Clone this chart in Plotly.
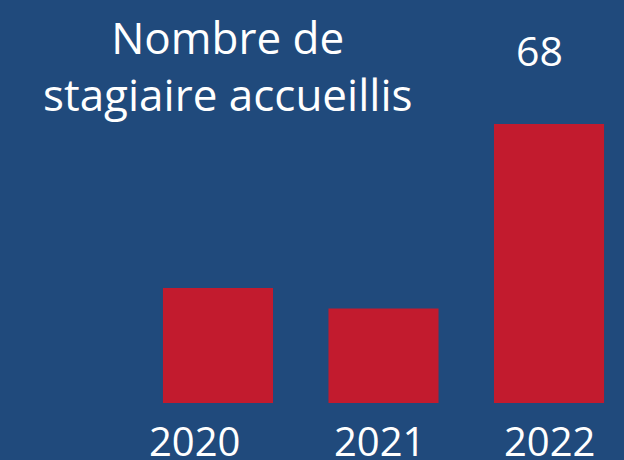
import plotly.graph_objects as go

years = ["2020", "2021", "2022"]
values = [28, 23, 68]
title_text = "Nombre de<br>stagiaire accueillis"

BG = "#204A7C"
RED = "#C21B2E"
FONT = "Open Sans"
label_dx = [-23, -4, 0]  # horizontal nudges of year labels (px), as in reference

fig = go.Figure()
fig.add_trace(go.Bar(
    x=years, y=values,
    marker=dict(color=RED, line=dict(width=0)),
    hoverinfo="skip",
))

# value label above the last bar
fig.add_annotation(
    x=2, y=values[2], xref="x", yref="y",
    text=str(values[2]), showarrow=False,
    yanchor="bottom", yshift=44, xshift=-10,
    font=dict(family=FONT, size=41, color="white"),
)
# category labels
for i, yr in enumerate(years):
    fig.add_annotation(
        x=i, y=0, xref="x", yref="paper",
        text=yr, showarrow=False,
        yanchor="top", yshift=-8, xshift=label_dx[i],
        font=dict(family=FONT, size=40, color="white"),
    )
fig.add_annotation(
    x=0.364, y=1.0, xref="paper", yref="paper",
    text=title_text, showarrow=False,
    xanchor="center", yanchor="top", yshift=-5,
    font=dict(family=FONT, size=44, color="white"),
)

fig.update_layout(
    width=624, height=460,
    margin=dict(l=0, r=0, t=0, b=57, pad=0),
    paper_bgcolor=BG, plot_bgcolor=BG,
    bargap=0.335,
    showlegend=False,
    xaxis=dict(
        type="category", range=[-1.317, 2.453], automargin=False,
        showgrid=False, zeroline=False, showline=False, ticks="",
        showticklabels=False,
    ),
    yaxis=dict(
        range=[0, 98.2], visible=False, showgrid=False, zeroline=False,
        automargin=False,
    ),
)

fig.write_html(
    "out.html",
    config={"displayModeBar": False, "staticPlot": True},
    post_script="document.body.style.margin='0';document.body.style.overflow='hidden';",
)
